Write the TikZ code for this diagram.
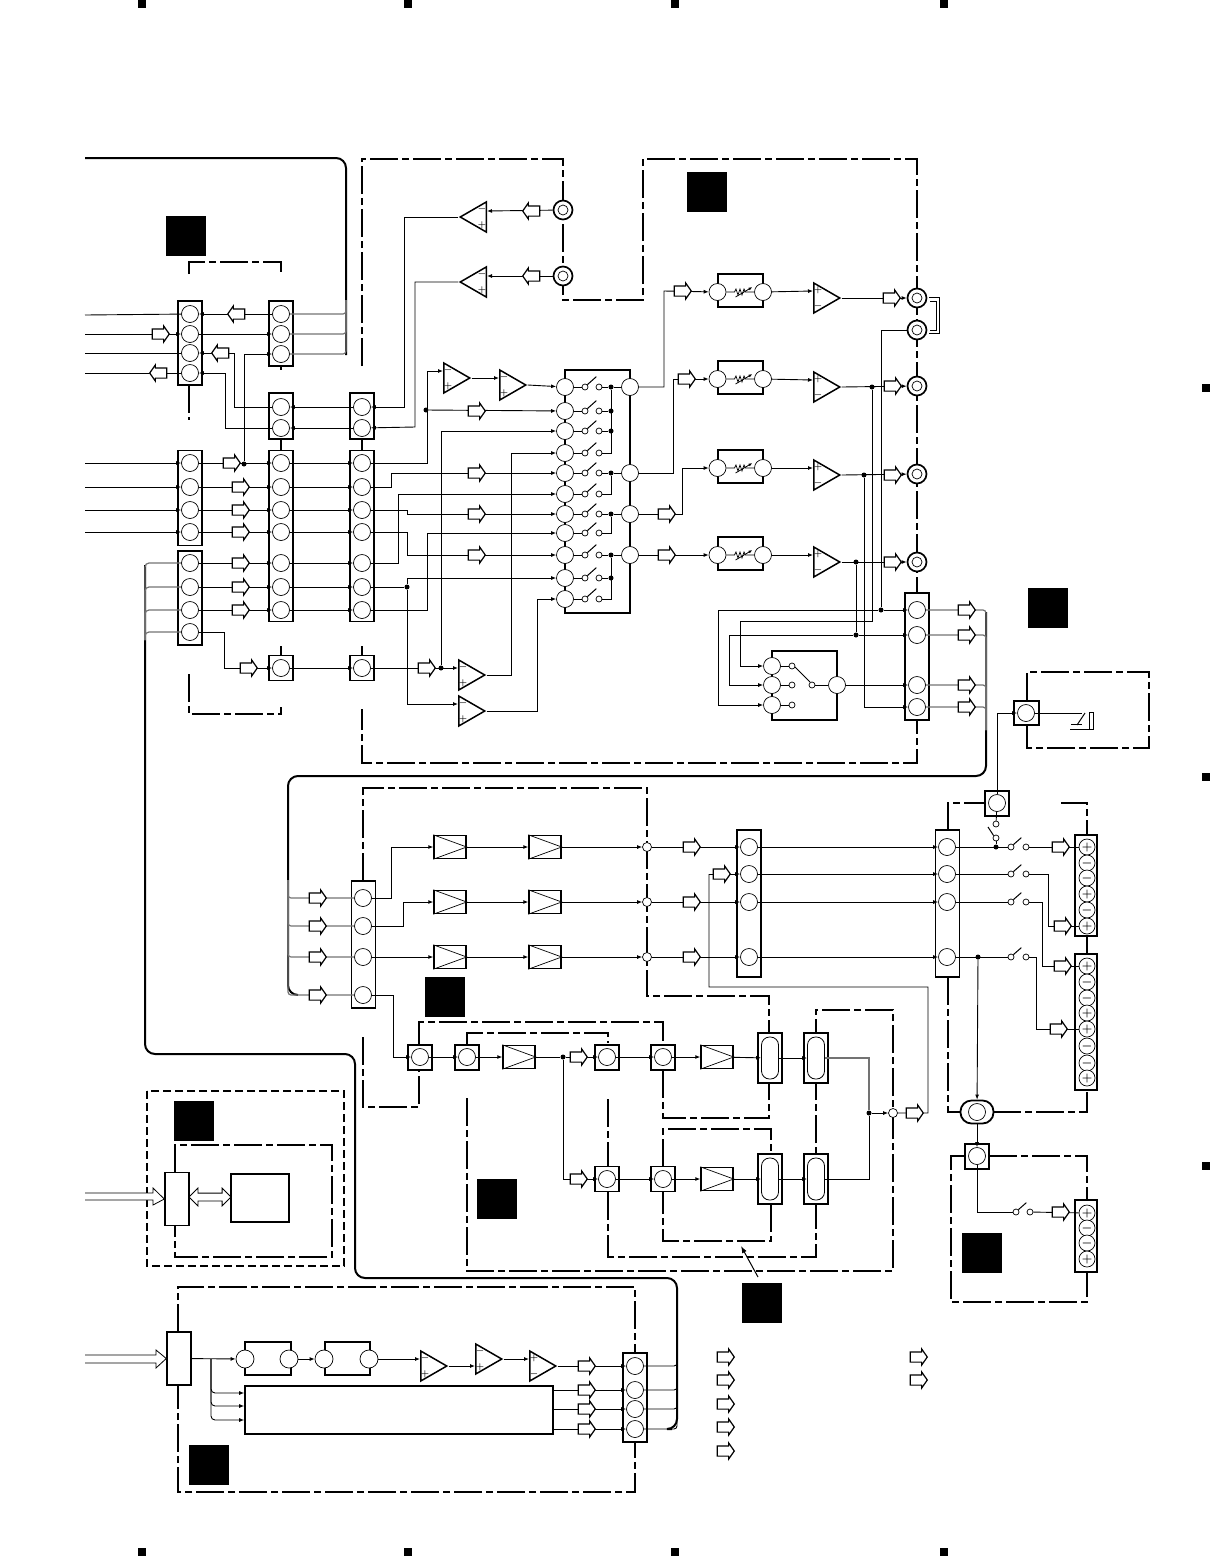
\documentclass[tikz,border=0pt]{standalone}
\usetikzlibrary{arrows.meta}
\usetikzlibrary{calc}
\usetikzlibrary{shapes.geometric}
\usetikzlibrary{shapes.arrows}
\pgfdeclarelayer{fr}
\pgfdeclarelayer{blk}
\pgfdeclarelayer{wr}
\pgfsetlayers{fr,blk,wr,main}
\tikzset{
	wire/.style={line width=0.9pt},
	sig/.style={wire,-{Latex[length=5pt,width=4pt]}},
	grayw/.style={line width=1.2pt,draw=black!55},
	trunk/.style={line width=2pt,rounded corners=10pt},
	frm/.style={line width=2pt,dash pattern=on 28pt off 4pt on 7pt off 4pt},
	dsh/.style={line width=1.6pt,dash pattern=on 8pt off 4pt},
	conn/.style={draw,line width=1.4pt,fill=white,minimum width=24pt,inner sep=0pt},
	pin/.style={circle,draw,line width=0.7pt,fill=white,minimum size=17pt,inner sep=0pt},
	spin/.style={circle,draw,line width=0.7pt,fill=white,minimum size=16pt,inner sep=0pt,font=\fontsize{12}{12}\selectfont\boldmath},
	ring/.style={circle,draw,line width=0.7pt,fill=white,minimum size=6pt,inner sep=0pt},
	tap/.style={circle,draw,line width=0.7pt,fill=white,minimum size=9pt,inner sep=0pt},
	jn/.style={circle,fill=black,minimum size=5pt,inner sep=0pt},
	bus/.style={single arrow,draw,fill=white,line width=1.2pt,text height=9pt,text depth=0pt,minimum height=17pt,single arrow head extend=3pt,single arrow tip angle=110,inner sep=0pt,outer sep=0pt,xshift=-2pt},
	busl/.style={bus,xshift=4pt,shape border rotate=180},
	amp/.style={isosceles triangle,isosceles triangle stretches,draw,line width=1.5pt,fill=white,minimum width=30pt,minimum height=26pt,inner sep=0pt},
	sgn/.style={font=\small\boldmath,inner sep=0pt},
	ampbox/.style={draw,line width=1.4pt,fill=white,minimum width=32pt,minimum height=23pt,inner sep=0pt},
	volbox/.style={draw,line width=1.6pt,fill=white,minimum width=45pt,minimum height=33pt,inner sep=0pt},
	caps/.style={draw,line width=0.8pt,fill=white,rounded corners=8pt,minimum width=17pt,minimum height=42pt,inner sep=0pt},
	jack/.style={circle,draw,line width=1.7pt,fill=white,minimum size=19pt,inner sep=0pt},
	jackin/.style={circle,draw,line width=0.7pt,fill=white,minimum size=10pt,inner sep=0pt},
	plain/.style={draw,line width=1.6pt,fill=white,inner sep=0pt},
	mask/.style={fill=black,minimum size=40pt,inner sep=0pt},
	reg/.style={fill=black,minimum size=8pt,inner sep=0pt}
}
% name, x of base, y of centre, upper sign, lower sign
\newcommand{\ampR}[5]{
	\node[amp,anchor=lower side] (#1) at (#2,#3) {};
	\coordinate (#1a) at (#2,#3-7);
	\coordinate (#1b) at (#2,#3+7);
	\node[sgn] (#1u) at (#2+5,#3-8) {$#4$};
	\node[sgn] (#1d) at (#2+5,#3+8) {$#5$};
}
\newcommand{\ampL}[5]{
	\node[amp,anchor=lower side,shape border rotate=180] (#1) at (#2,#3) {};
	\coordinate (#1a) at (#2,#3-6);
	\node[sgn] (#1u) at (#2-5,#3-8) {$#4$};
	\node[sgn] (#1d) at (#2-5,#3+8) {$#5$};
}
\begin{document}
\begin{tikzpicture}[x=1pt,y=-1pt]
	\useasboundingbox (0,0) rectangle (1210,1556);

	% page marks
	\foreach \n/\x in {1/142,2/408,3/675,4/944} {
		\node[reg] (regt\n) at (\x,4) {};
		\node[reg] (regb\n) at (\x,1552) {};
	}
	\foreach \n/\y in {1/388,2/777,3/1166}
		\node[reg] (regr\n) at (1206,\y) {};

	% masks
	\foreach \n/\x/\y in {1/186/236,2/707/192,3/1048/608,4/445/997,5/497/1199,6/762/1303,7/194/1121,8/982/1253,9/209/1465}
		\node[mask] (mask\n) at (\x,\y) {};

	% connector blocks
	\begin{pgfonlayer}{blk}
	\node[conn,minimum height=84pt] (blkA) at (190,343) {};
	\node[conn,minimum height=65pt] (blkB) at (281,333.5) {};
	\node[conn,minimum height=46pt] (blkC) at (281,416) {};
	\node[conn,minimum height=46pt] (blkH) at (362,416) {};
	\node[conn,minimum height=95pt] (blkF) at (190,498) {};
	\node[conn,minimum height=94pt] (blkG) at (190,598) {};
	\node[conn,minimum height=171pt] (blkD) at (281,536) {};
	\node[conn,minimum height=171pt] (blkE) at (362,536) {};
	\node[conn,minimum height=25pt] (blkJ) at (281,668) {};
	\node[conn,minimum height=25pt] (blkK) at (362,668) {};
	\node[conn,minimum height=127pt] (blkQ) at (917,656.5) {};
	\node[conn,minimum height=127pt] (blkM) at (363.5,944.5) {};
	\node[conn,minimum height=147pt] (blkN) at (749,903.5) {};
	\node[conn,minimum height=147pt] (blkO) at (947.5,903.5) {};
	\node[conn,minimum height=25pt] (blkR) at (997,803.5) {};
	\node[conn,minimum height=24pt,minimum width=25pt] (blkS) at (1026.5,713) {};
	\node[conn,minimum width=22pt,minimum height=101pt] (blkP) at (1086,885.5) {};
	\node[conn,minimum width=22pt,minimum height=136pt] (blkW) at (1086,1022) {};
	\node[conn,minimum width=22pt,minimum height=72pt] (blkX) at (1086,1236) {};
	\node[conn,minimum height=25pt] (blkY) at (977,1156.5) {};
	\foreach \n/\x/\y in {1/420/1057.5,2/467/1057.5,3/607/1057.5,4/663/1057.5,5/607/1179,6/663/1179}
		\node[conn,minimum height=25pt] (blkT\n) at (\x,\y) {};
	\foreach \n/\x/\y in {1/770/1058,2/816/1058,3/770/1179,4/816/1179}
		\node[conn,minimum height=50pt] (blkU\n) at (\x,\y) {};
	\node[conn,minimum height=53pt] (blkIa) at (177,1199) {};
	\node[conn,minimum height=53pt] (blkIb) at (179,1358.5) {};
	\node[conn,minimum height=89pt] (blkZ) at (635,1397.5) {};
	\node[plain,minimum width=46pt,minimum height=33pt] (boxa) at (268,1358.5) {};
	\node[plain,minimum width=45pt,minimum height=33pt] (boxb) at (347.5,1358.5) {};
	\node[plain,minimum width=308pt,minimum height=48pt] (boxm) at (399,1410) {};
	\node[plain,minimum width=58pt,minimum height=48pt] (boxmem) at (260,1198) {};
	\node[plain,minimum width=65pt,minimum height=69pt,fill=none] (boxsel) at (804.5,685.5) {};
	\node[plain,minimum width=65pt,minimum height=243pt,fill=none] (boxsw) at (597.5,491.5) {};
	\foreach \n/\y in {1/292,2/379,3/468,4/555}
		\node[volbox] (V\n) at (740.5,\y-1.5) {};
	\end{pgfonlayer}

	% pins
	\foreach \n/\y in {1/314,2/334,3/353,4/373}
		\node[pin] (A\n) at (190,\y) {};
	\foreach \n/\y in {1/314,2/334,3/354}
		\node[pin] (B\n) at (281,\y) {};
	\foreach \n/\y in {1/407,2/428} {
		\node[pin] (C\n) at (281,\y) {};
		\node[pin] (H\n) at (362,\y) {};
	}
	\foreach \n/\y in {1/463,2/487,3/510,4/532}
		\node[pin] (F\n) at (190,\y) {};
	\foreach \n/\y in {1/563,2/587,3/610,4/632}
		\node[pin] (G\n) at (190,\y) {};
	\foreach \n/\y in {1/463,2/487,3/510,4/532,5/563,6/587,7/610} {
		\node[pin] (D\n) at (281,\y) {};
		\node[pin] (E\n) at (362,\y) {};
	}
	\node[pin] (J1) at (281,668) {};
	\node[pin] (K1) at (362,668) {};
	\foreach \n/\y in {1/387,2/411,3/431,4/453,5/473,6/494,7/514,8/533,9/555,10/578,11/599} {
		\node[pin] (S\n) at (565,\y) {};
		\node[ring] (Sa\n) at (585,\y) {};
		\node[ring] (Sb\n) at (599,\y) {};
	}
	\foreach \n/\y in {1/387,2/473,3/514,4/555}
		\node[pin] (R\n) at (630,\y) {};
	\foreach \n/\y in {1/292,2/379,3/468,4/555} {
		\node[pin] (Vi\n) at (717.5,\y) {};
		\node[pin] (Vo\n) at (763,\y) {};
	}
	\foreach \n/\x/\y in {1/917/298,2/917/330,3/917/386,4/917/474,5/917/562,6/563/210,7/563/276} {
		\node[jack] (Jk\n) at (\x,\y) {};
		\node[jackin] (Jc\n) at (\x,\y) {};
	}
	\foreach \n/\y in {1/610,2/635,3/685,4/707}
		\node[pin] (Q\n) at (917,\y) {};
	\node[pin] (Sc1) at (772,666) {};
	\node[pin] (Sc2) at (772,685) {};
	\node[pin] (Sc3) at (772,705) {};
	\node[pin] (Sco) at (837,685) {};
	\node[ring] (Sr1) at (792,666) {};
	\node[ring] (Sr2) at (792,685) {};
	\node[ring] (Sr3) at (792,705) {};
	\node[ring] (Srm) at (812,685) {};
	\node[pin] (Sd1) at (1026,713) {};
	\foreach \n/\y in {1/898,2/926,3/957,4/995}
		\node[pin] (M\n) at (363,\y) {};
	\foreach \n/\y in {1/847,2/874,3/902,4/957} {
		\node[pin] (N\n) at (749,\y) {};
		\node[pin] (O\n) at (947,\y) {};
		\node[ring] (Oa\n) at (1011,\y) {};
		\node[ring] (Ob\n) at (1026,\y) {};
	}
	\foreach \n/\s/\y in {1/+/847,2/-/863,3/-/878,4/+/894,5/-/910,6/+/926}
		\node[spin] (P\n) at (1087,\y) {$\s$};
	\foreach \n/\s/\y in {1/+/966,2/-/982,3/-/998,4/+/1013,5/+/1029,6/-/1046,7/-/1063,8/+/1078}
		\node[spin] (W\n) at (1087,\y) {$\s$};
	\foreach \n/\s/\y in {1/+/1213,2/-/1228,3/-/1243,4/+/1259}
		\node[spin] (X\n) at (1087,\y) {$\s$};
	\node[pin] (R0) at (997,803) {};
	\node[ring] (Rr1) at (996,824) {};
	\node[ring] (Rr2) at (996,838) {};
	\node[draw,line width=1.8pt,fill=white,rounded corners=11pt,minimum width=33pt,minimum height=23pt,inner sep=0pt] (coil) at (977,1112) {};
	\node[pin] (coilp) at (977,1112) {};
	\node[pin] (Y1) at (977,1156) {};
	\node[ring] (Ya) at (1016,1212) {};
	\node[ring] (Yb) at (1030,1212) {};
	\foreach \n/\x/\y in {1/420/1057,2/467/1057,3/607/1057,4/663/1057,5/607/1179,6/663/1179}
		\node[pin] (T\n) at (\x,\y) {};
	\foreach \n/\x/\y in {1/770/1058,2/816/1058,3/770/1179,4/816/1179}
		\node[caps] (U\n) at (\x,\y) {};
	\foreach \n/\x in {a/245,b/289,c/324,d/369}
		\node[pin,minimum width=16pt,minimum height=18pt] (L\n) at (\x,1359) {};
	\foreach \n/\y in {1/1366,2/1390,3/1409,4/1429}
		\node[pin] (Z\n) at (635,\y) {};

	% amplifier boxes
	\foreach \n/\x/\y in {1/450/847,2/545/847,3/450/902,4/545/902,5/450/957,6/545/957,7/519/1057,8/717/1057,9/717/1179} {
		\node[ampbox] (G\n b) at (\x,\y) {};
		\draw[line width=0.7pt] (G\n b.north west) -- (G\n b.east) -- (G\n b.south west);
	}
	\foreach \n/\y in {1/847,2/902,3/957}
		\node[tap] (Tp\n) at (647,\y) {};
	\node[tap] (Tp4) at (893,1113) {};

	% op amps
	\ampL{OpA}{487}{217}{-}{+}
	\ampL{OpB}{487}{282}{-}{+}
	\ampR{OpC}{443}{378}{-}{+}
	\ampR{OpD}{499}{385}{-}{+}
	\ampR{OpE}{458}{675}{-}{+}
	\ampR{OpF}{458}{711}{-}{+}
	\foreach \n/\y in {1/298,2/387,3/475,4/562} {
		\ampR{OpV\n}{813}{\y}{+}{-}
	}
	\ampR{OpG}{420}{1366}{-}{+}
	\ampR{OpH}{475}{1359}{-}{+}
	\ampR{OpI}{529}{1366}{+}{-}

	% junctions
	\foreach \n/\x/\y in {1/244/464,2/426/410,3/441/668,4/407/587,5/872/387,6/864/475,7/856/562,8/881/610,9/856/635,10/996/847,11/978/957,12/563/1057,13/869/1113}
		\node[jn] (dot\n) at (\x,\y) {};
	\foreach \n/\y in {1/387,2/411,3/431,5/473,7/514,9/555,10/578}
		\node[jn] (sdot\n) at (611,\y) {};

	% bus arrows
	\node[busl] (arA1) at (236,314) {};
	\node[bus] (arA2) at (161,334) {};
	\node[busl] (arA3) at (220,353) {};
	\node[busl] (arA4) at (158,373) {};
	\node[bus] (arF1) at (232,463) {};
	\foreach \n/\y in {2/487,3/510,4/532,5/563,6/587,7/610}
		\node[bus] (arD\n) at (241,\y) {};
	\node[bus] (arJ) at (249,668) {};
	\node[bus] (arK) at (427,668) {};
	\node[busl] (arOa) at (531,211) {};
	\node[busl] (arOb) at (531,276) {};
	\foreach \n/\y in {2/411,5/473,7/514,9/555}
		\node[bus] (arS\n) at (477,\y) {};
	\node[bus] (arV1) at (683,291) {};
	\node[bus] (arV2) at (687,379) {};
	\node[bus] (arR3) at (667,514) {};
	\node[bus] (arR4) at (667,555) {};
	\node[bus] (arJ1) at (892,298) {};
	\node[bus] (arJ3) at (893,386) {};
	\node[bus] (arJ4) at (893,475) {};
	\node[bus] (arJ5) at (893,562) {};
	\foreach \n/\y in {1/610,2/635,3/685,4/707}
		\node[bus] (arQ\n) at (967,\y) {};
	\foreach \n/\y in {1/898,2/926,3/957,4/995}
		\node[bus] (arM\n) at (318,\y) {};
	\foreach \n/\y in {1/847,3/902,4/957}
		\node[bus] (arN\n) at (692,\y) {};
	\node[bus] (arN2) at (722,874) {};
	\node[bus] (arT3) at (579,1057) {};
	\node[bus] (arT5) at (579,1179) {};
	\node[bus] (arTp) at (915,1113) {};
	\node[bus] (arP1) at (1061,847) {};
	\node[bus] (arP6) at (1063,926) {};
	\node[bus] (arW1) at (1063,966) {};
	\node[bus] (arW5) at (1059,1029) {};
	\node[bus] (arX1) at (1061,1212) {};
	\foreach \n/\y in {1/1366,2/1390,3/1409,4/1429}
		\node[bus] (arZ\n) at (587,\y) {};
	\foreach \n/\y in {1/1357,2/1380,3/1404,4/1427,5/1451}
		\node[bus] (key\n) at (726,\y) {};
	\node[bus] (key6) at (919,1357) {};
	\node[bus] (key7) at (919,1380) {};
	\node[double arrow,draw,fill=white,line width=0.8pt,text height=7pt,text depth=0pt,minimum height=42pt,double arrow head extend=5pt,inner sep=0pt,outer sep=0pt] (arMem) at (210,1197) {};

	% free ends on the left
	\foreach \n/\y in {1/315,2/334,3/353,4/373}
		\coordinate (iA\n) at (85,\y);
	\foreach \n/\y in {1/463,2/487,3/510,4/532}
		\coordinate (iF\n) at (85,\y);

	% wiring
	\begin{pgfonlayer}{wr}
	\draw[wire] (iA1) -- (A1);
	\draw[sig] (iA2) -- (A2);
	\draw[wire] (iA3) -- (A3);
	\draw[wire] (A4) -- (iA4);
	\draw[sig] (B1) -- (A1);
	\draw[sig] (A2) -- (B2);
	\draw[sig] (C1) -| (234,353) -- (A3);
	\draw[sig] (C2) -| (225,373) -- (A4);
	\draw[sig] (dot1) |- (B3);
	\foreach \n in {1,2,3}
		\draw[grayw,rounded corners=3pt] (B\n) -| (346,300);
	\draw[sig] (H1) -- (C1);
	\draw[sig] (H2) -- (C2);
	\draw[sig] (Jk6) -- (OpAa);
	\draw[sig] (Jk7) -- (OpBa);
	\draw[sig] (OpA.apex) -| (404,407) -- (H1);
	\draw[sig] (OpB.apex) -| (415,427) -- (H2);
	\foreach \n in {1,2,3,4}
		\draw[sig] (iF\n) -- (F\n);
	\draw[sig] (F1) -- (D1);
	\foreach \n in {2,3,4}
		\draw[sig] (F\n) -- (D\n);
	\draw[sig] (G1) -- (D5);
	\draw[sig] (G2) -- (D6);
	\draw[sig] (G3) -- (D7);
	\foreach \n in {1,2,3,4,5,6,7}
		\draw[sig] (D\n) -- (E\n);
	\draw[sig] (G4) -| (224,668) -- (J1);
	\draw[sig] (J1) -- (K1);
	\draw[sig] (K1) -- (OpEa);
	\foreach \n in {1,2,3,4}
		\draw[grayw,rounded corners=4pt] (G\n) -| (145,640);

	\draw[sig] (E1) -| (427,371) -- (OpCa);
	\draw[sig] (dot2) -- (S2);
	\draw[sig] (OpC.apex) -- (OpDa);
	\draw[sig] (OpD.apex) -- (S1);
	\draw[sig] (dot3) |- (S3);
	\draw[sig] (OpE.apex) -| (511,453) -- (S4);
	\draw[sig] (E2) -| (391,473) -- (S5);
	\draw[sig] (E5) -| (398,494) -- (S6);
	\draw[sig] (E3) -| (407,514) -- (S7);
	\draw[sig] (E7) -| (427,533) -- (S8);
	\draw[sig] (E4) -| (407,555) -- (S9);
	\draw[wire] (E6) -- (dot4);
	\draw[sig] (dot4) |- (S10);
	\draw[sig] (dot4) |- (OpFa);
	\draw[sig] (OpF.apex) -| (537,599) -- (S11);
	\foreach \n in {1,...,11} {
		\draw[wire] (S\n) -- (Sa\n);
		\draw[line width=1pt] (Sa\n.north east) -- ++(9,-8);
	}
	\draw[wire] (sdot1) -- (R1);
	\draw[wire] (sdot5) -- (R2);
	\draw[wire] (sdot7) -- (R3);
	\draw[wire] (sdot9) -- (R4);
	\draw[wire] (sdot1) -- (611,453) -- (Sb4);
	\draw[wire] (sdot5) -- (611,494) -- (Sb6);
	\draw[wire] (sdot7) -- (611,533) -- (Sb8);
	\draw[wire] (sdot9) -- (611,599) -- (Sb11);
	\foreach \n in {1,2,3,5,7,9,10}
		\draw[wire] (Sb\n) -- (sdot\n);

	\draw[sig] (R1) -| (664,291) -- (Vi1);
	\draw[sig] (R2) -| (673,379) -- (Vi2);
	\draw[sig] (R3) -| (682,468) -- (Vi3);
	\draw[sig] (R4) -- (Vi4);
	\foreach \n in {1,2,3,4} {
		\draw[sig] (Vo\n) -- (OpV\n a);
		\draw[line width=0.7pt] (Vi\n) -- ($(Vi\n)+(17,0)$) -- ++(1.5,-3) -- ++(2,6) -- ++(2,-6) -- ++(2,6) -- ++(2,-6) -- ++(1.5,3) -- (Vo\n);
		\draw[-{Latex[length=4pt,width=3pt]},line width=0.8pt] ($(Vi\n)+(18,5)$) -- ++(17,-10);
	}
	\draw[sig] (OpV1.apex) -- (Jk1);
	\draw[sig] (OpV2.apex) -- (Jk3);
	\draw[sig] (OpV3.apex) -- (Jk4);
	\draw[sig] (OpV4.apex) -- (Jk5);
	\draw[wire] (Jk2) -| (dot8);
	\draw[wire] (dot5) |- (740,621) coordinate (lnA);
	\draw[sig] (lnA) |- (Sc1);
	\draw[wire] (dot6) -- (864,707);
	\draw[sig] (864,707) -- (Q4);
	\draw[wire] (dot7) -- (dot9);
	\draw[sig] (718,705) |- (dot8) -- (Q1);
	\draw[sig] (718,705) -- (Sc3);
	\draw[sig] (729,685) |- (dot9) -- (Q2);
	\draw[sig] (729,685) -- (Sc2);
	\draw[wire] (Sc1) -- (Sr1);
	\draw[wire] (Sc2) -- (Sr2);
	\draw[wire] (Sc3) -- (Sr3);
	\draw[wire] (Srm) -- (Sco);
	\draw[line width=1pt] (795,667) -- (810,682);
	\draw[sig] (Sco) -- (Q3);
	\draw[line width=0.9pt] (929,297) -- (939,297) -- (939,333) -- (929,333);
	\draw[line width=0.9pt] (930,301) -- (936,301) -- (936,330) -- (930,330);
	\foreach \n in {1,2,3,4}
		\draw[grayw,rounded corners=3pt] (Q\n) -| (986,730);

	\draw[wire] (Sd1) -- (1082,713);
	\draw[line width=1pt] (1085,713) -- (1077,725);
	\draw[line width=0.8pt] (1071,724) -- (1082,724);
	\draw[line width=0.8pt] (1070,729) -- (1093,729) -- (1093,712) -- (1089,712) -- (1089,729);

	\draw[sig] (R0) |- (Sd1);

	\foreach \n in {1,2,3,4}
		\draw[grayw,rounded corners=3pt] (M\n) -| (288,880);
	\draw[sig] (M1) -| (391,847) -- (G1b);
	\draw[sig] (M2) -| (403,902) -- (G3b);
	\draw[sig] (M3) -- (G5b);
	\draw[sig] (G1b) -- (G2b);
	\draw[sig] (G3b) -- (G4b);
	\draw[sig] (G5b) -- (G6b);
	\draw[sig] (G2b) -- (Tp1);
	\draw[sig] (G4b) -- (Tp2);
	\draw[sig] (G6b) -- (Tp3);
	\draw[sig] (Tp1) -- (N1);
	\draw[sig] (Tp2) -- (N3);
	\draw[sig] (Tp3) -- (N4);
	\draw[sig] (709,874) -- (N2);
	\draw[wire] (arTp) -- (928,1113) |- (709,987) -- (709,874);
	\foreach \n in {1,2,3,4}
		\draw[sig] (N\n) -- (O\n);

	\draw[wire] (O1) -- (Oa1);
	\draw[wire] (O2) -- (Oa2);
	\draw[wire] (O3) -- (Oa3);
	\draw[wire] (O4) -- (Oa4);
	\draw[wire] (Ob1) -- (P1);
	\draw[wire] (Ob2) -| (1048,926) -- (P6);
	\draw[wire] (Ob3) -| (1042,966) -- (W1);
	\draw[wire] (Ob4) -| (1036,1029) -- (W5);
	\foreach \n in {1,2,3,4}
		\draw[line width=1pt] (Oa\n.north east) -- ++(8,-7);
	\draw[wire] (dot10) -- (Rr2);
	\draw[wire] (Rr1) -- (R0);
	\draw[line width=1pt] (Rr2.north west) -- (988,827);
	\draw[sig] (dot11) -- (coil);
	\draw[sig] (coilp) -- (Y1);
	\draw[wire] (Y1) |- (Ya);
	\draw[wire] (Yb) -- (X1);
	\draw[line width=1pt] (Ya.north east) -- ++(8,-7);

	\draw[sig] (M4) -| (393,1057) -- (T1);
	\draw[sig] (T1) -- (T2);
	\draw[sig] (T2) -- (G7b);
	\draw[wire] (G7b) -- (dot12);
	\draw[sig] (dot12) -- (T3);
	\draw[sig] (dot12) |- (T5);
	\draw[sig] (T3) -- (T4);
	\draw[sig] (T4) -- (G8b);
	\draw[sig] (G8b) -- (U1);
	\draw[sig] (U1) -- (U2);
	\draw[sig] (T5) -- (T6);
	\draw[sig] (T6) -- (G9b);
	\draw[sig] (G9b) -- (U3);
	\draw[sig] (U3) -- (U4);
	\draw[grayw] (U2) -| (dot13);
	\draw[wire] (U4) -| (dot13);
	\draw[sig] (dot13) -- (Tp4);
	\draw[wire] (Tp4) -- (arTp);

	\draw[-{Latex[length=7pt,width=5pt]},line width=1pt] (758,1277) -- (741,1246);

	\draw[sig] (blkIb) -- (La);
	\draw[sig] (Lb) -- (Lc);
	\draw[sig] (Ld) -- (OpGa);
	\draw[sig] (OpG.apex) -- (OpHb);
	\draw[sig] (OpH.apex) -- (OpIa);
	\draw[sig] (OpI.apex) -- (Z1);
	\foreach \n/\y in {2/1390,3/1409,4/1429}
		\draw[sig] (boxm.east |- 0,\y) -- (Z\n);
	\foreach \y in {1393,1406,1420}
		\draw[sig,rounded corners=4pt] (211,1359) |- (boxm.west |- 0,\y);
	\foreach \n in {1,2,3,4}
		\draw[wire,rounded corners=3pt] (Z\n) -| (677,1350);
	\end{pgfonlayer}

	% frames and trunks
	\begin{pgfonlayer}{fr}
	\draw[frm] (189,274) |- (281,262) -- (281,274);
	\draw[frm] (189,385) -- (189,420);
	\draw[frm] (281,366) -- (281,370);
	\draw[frm] (281,439) -- (281,450);
	\draw[frm] (362,439) -- (362,450);
	\draw[frm] (281,646) -- (281,656);
	\draw[frm] (362,646) -- (362,656);
	\draw[frm] (189,674) |- (281,714) -- (281,707);
	\draw[frm] (362,366) |- (563,159) |- (643,300) |- (917,159) |- (362,763) -- (362,709);
	\draw[frm] (1027,701) |- (1149,672) |- (1027,748) -- (1027,725);
	\draw[frm] (363,881) |- (647,788) |- (769,996) -- (769,1033);
	\draw[frm] (363,1037) |- (419,1107) -- (419,1070);
	\draw[frm] (419,1045) |- (663,1022) -- (663,1045);
	\draw[frm] (467,1045) |- (608,1033) -- (608,1043);
	\draw[frm] (467,1098) |- (893,1271) |- (816,1010) -- (816,1033);
	\draw[frm] (608,1099) -- (608,1167);
	\draw[frm] (608,1192) |- (816,1257) -- (816,1083);
	\draw[frm] (663,1070) |- (769,1118) -- (769,1083);
	\draw[frm] (663,1167) |- (771,1129) -- (771,1154);
	\draw[frm] (771,1204) |- (663,1241) -- (663,1192);
	\draw[frm] (948,830) |- (985,803);
	\draw[frm] (1061,803) -| (1087,835);
	\draw[frm] (1087,936) -- (1087,954);
	\draw[frm] (948,977) |- (961,1112);
	\draw[frm] (993,1112) -| (1087,1090);
	\draw[frm] (965,1156) -| (951,1302) -| (1087,1272);
	\draw[frm] (989,1156) -| (1087,1200);
	\draw[dsh] (147,1091) rectangle (344,1266);
	\draw[frm] (175,1172) |- (332,1145) |- (175,1257) -- (175,1226);
	\draw[frm] (178,1332) |- (635,1287) |- (178,1492) -- (178,1385);
	\draw[trunk] (85,158) -| (346,355);
	\draw[trunk] (986,612) |- (288,776) |- (298,995);
	\draw[trunk] (145,565) |- (355,1054) |- (677,1278) -- (677,1429) -- (672,1429);
	\end{pgfonlayer}

	\draw[line width=0.8pt,fill=white] (85,1193) -- (153,1193) -- (153,1188) -- (blkIa.west) -- (153,1205) -- (153,1200) -- (85,1200);
	\draw[line width=0.8pt,fill=white] (85,1355) -- (156,1355) -- (156,1350) -- (blkIb.west) -- (156,1368) -- (156,1363) -- (85,1363);
\end{tikzpicture}
\end{document}
